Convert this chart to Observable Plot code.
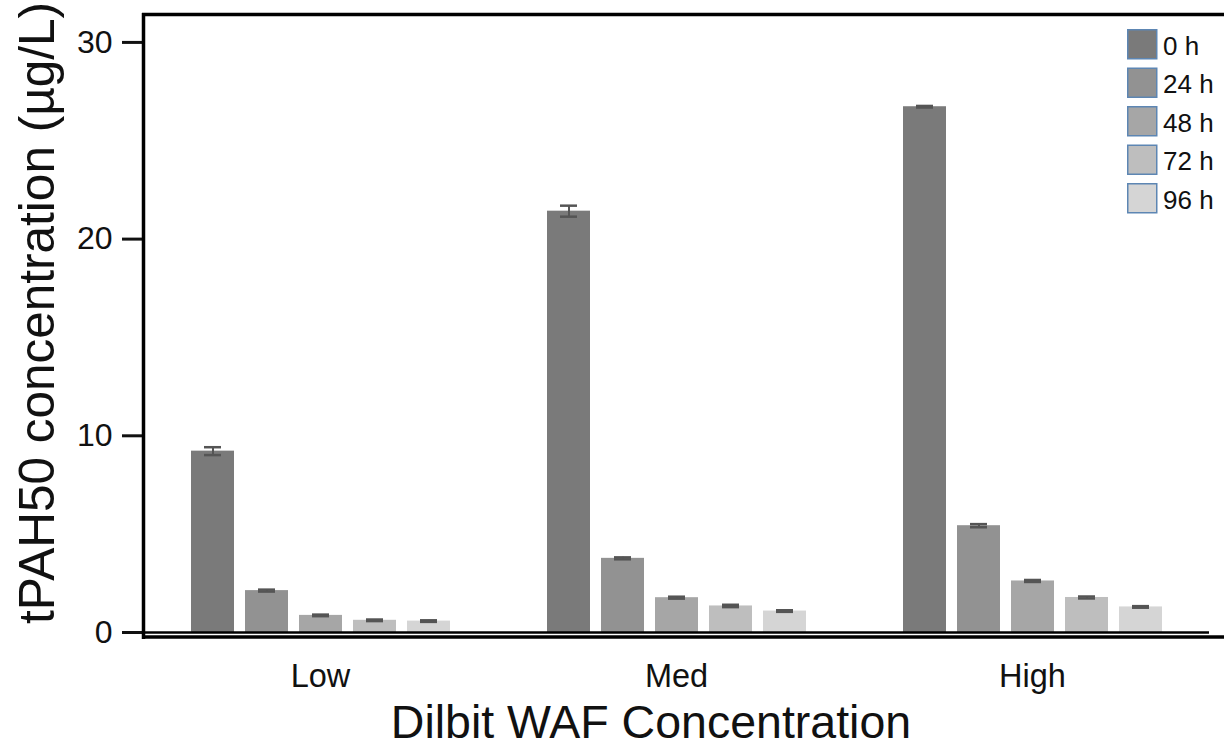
<!DOCTYPE html>
<html>
<head>
<meta charset="utf-8">
<script src="https://cdn.jsdelivr.net/npm/d3@7"></script>
<script src="https://cdn.jsdelivr.net/npm/@observablehq/plot@0.6"></script>
<style>
  html, body { margin: 0; padding: 0; background: #fff; }
  #chart svg { display: block; font-family: "Liberation Sans", Arial, Helvetica, sans-serif; }
</style>
</head>
<body>
<div id="chart"></div>
<script>
// WAF dilution levels (facets) and sampling times (bars within each facet)
const groups = ["Low", "Med", "High"];
const times = ["0 h", "24 h", "48 h", "72 h", "96 h"];

// mean tPAH50 concentration (µg/L)
const lowMean  = [9.22, 2.13, 0.87, 0.62, 0.58];
const medMean  = [21.42, 3.77, 1.77, 1.35, 1.09];
const highMean = [26.73, 5.43, 2.62, 1.78, 1.30];

// standard error of each mean
const lowErr  = [0.20, 0.05, 0.04, 0.04, 0.04];
const medErr  = [0.28, 0.05, 0.05, 0.06, 0.04];
const highErr = [0.04, 0.08, 0.05, 0.05, 0.04];

const shades = ["#7a7a7a", "#929292", "#a6a6a6", "#bebebe", "#d5d5d5"];
const yTicks = [0, 10, 20, 30];

const yLabel = "tPAH50 concentration (µg/L)";
const xLabel = "Dilbit WAF Concentration";

const means = [lowMean, medMean, highMean];
const errs = [lowErr, medErr, highErr];
const rows = groups.flatMap((g, i) =>
  times.map((t, j) => ({group: g, time: t, value: means[i][j], err: errs[i][j]}))
);

const W = 1224, H = 748;
const font = '"Liberation Sans", Arial, Helvetica, sans-serif';
const errColor = "#555";
const capInset = 13;

const plot = Plot.plot({
  width: W,
  height: H,
  marginLeft: 142,
  marginRight: 14,
  marginTop: 13,
  marginBottom: 116,
  style: {fontFamily: font, fontSize: "30px", color: "#111", background: "#fff", overflow: "visible"},
  fx: {domain: groups, paddingInner: 0, paddingOuter: 0},
  x: {domain: times, paddingInner: 0.211, paddingOuter: 0.8716, axis: null},
  y: {domain: [0, 31.47]},
  color: {domain: times, range: shades},
  marks: [
    Plot.axisY({ticks: yTicks, tickSize: 20, tickPadding: 10, fontSize: 32, strokeWidth: 3, stroke: "#111", label: null, tickFormat: "d"}),
    Plot.axisFx({anchor: "bottom", tickSize: 0, tickPadding: 31, fontSize: 32.5, label: null}),
    Plot.barY(rows, {fx: "group", x: "time", y: "value", fill: "time"}),
    Plot.ruleX(rows, {fx: "group", x: "time", y1: d => d.value - d.err, y2: d => d.value + d.err, stroke: errColor, strokeWidth: 2}),
    Plot.tickY(rows, {fx: "group", x: "time", y: d => d.value + d.err, stroke: errColor, strokeWidth: 2.5, insetLeft: capInset, insetRight: capInset}),
    Plot.tickY(rows, {fx: "group", x: "time", y: d => d.value - d.err, stroke: errColor, strokeWidth: 2.5, insetLeft: capInset, insetRight: capInset})
  ]
});

document.getElementById("chart").appendChild(plot);

const svg = d3.select(plot);

// frame: left axis line, top border and doubled baseline
const ys = plot.scale("y");
const y0 = ys.apply(0);
const yTop = ys.apply(ys.domain[1]);
const xL = 142;
const xR = W - 15;
const frame = svg.append("g").attr("stroke", "#000").attr("fill", "none");
frame.append("line").attr("x1", xL + 1.5).attr("x2", xL + 1.5).attr("y1", yTop).attr("y2", y0 + 7).attr("stroke-width", 3.5);
frame.append("line").attr("x1", xL).attr("x2", W).attr("y1", yTop + 1.5).attr("y2", yTop + 1.5).attr("stroke-width", 3.5);
frame.append("line").attr("x1", xL).attr("x2", xR).attr("y1", y0 + 0.5).attr("y2", y0 + 0.5).attr("stroke-width", 2.5);
frame.append("line").attr("x1", xL).attr("x2", W).attr("y1", y0 + 5).attr("y2", y0 + 5).attr("stroke-width", 3.5);

// axis titles
svg.append("text")
  .attr("transform", `translate(54,313) rotate(-90)`)
  .attr("text-anchor", "middle")
  .style("font-size", "49.5px")
  .attr("fill", "#111")
  .text(yLabel);
svg.append("text")
  .attr("x", 651)
  .attr("y", 738)
  .attr("text-anchor", "middle")
  .style("font-size", "46.5px")
  .attr("fill", "#111")
  .text(xLabel);

// legend in the upper-right corner
const legend = svg.append("g").attr("transform", "translate(1127,29)");
const item = legend.selectAll("g").data(times).join("g")
  .attr("transform", (d, i) => `translate(0,${i * 38.5})`);
item.append("rect")
  .attr("x", 0.75).attr("y", 0.75).attr("width", 29).attr("height", 29)
  .attr("fill", (d, i) => shades[i])
  .attr("stroke", "#5d86b3").attr("stroke-width", 1.5);
item.append("text")
  .attr("x", 36).attr("y", 25.5)
  .attr("text-anchor", "start")
  .style("font-size", "26px")
  .attr("fill", "#111")
  .text(d => d);
</script>
</body>
</html>
